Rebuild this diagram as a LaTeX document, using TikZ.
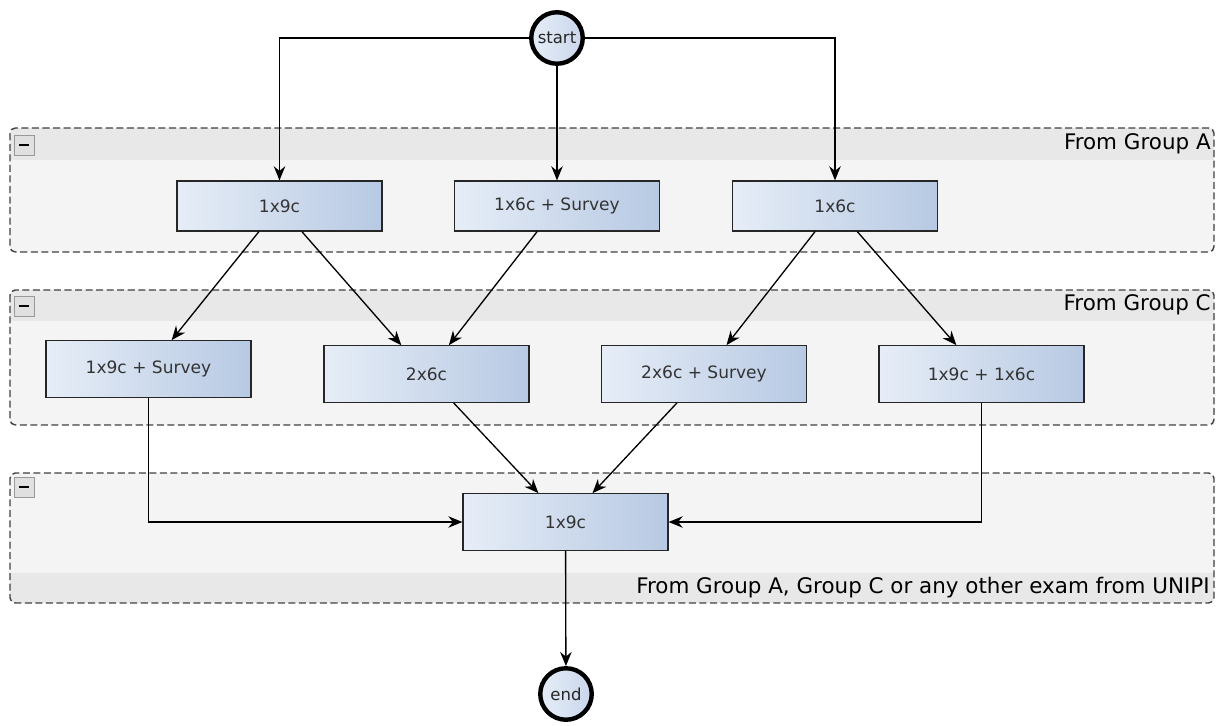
\documentclass[tikz,border=0pt]{standalone}
\usepackage{fontspec}
\setmainfont{DejaVu Sans}
\usetikzlibrary{arrows.meta}

\definecolor{taskleft}{HTML}{E6EDF7}
\definecolor{taskright}{HTML}{B7C9E3}
\definecolor{eventright}{HTML}{C9D7EC}
\definecolor{groupbody}{HTML}{F4F4F4}
\definecolor{grouphead}{HTML}{E8E8E8}

\begin{document}
\begin{tikzpicture}[x=0.02cm, y=-0.02cm,
	task/.style={draw=black!85, line width=0.7pt, left color=taskleft, right color=taskright, text=black!80, minimum width=4.1cm, minimum height=1.13cm, inner sep=0pt, font=\fontsize{9.7}{11}\selectfont},
	event/.style={circle, draw=black, line width=2.5pt, left color=taskleft, right color=eventright, text=black!85, minimum size=1.03cm, inner sep=0pt, font=\fontsize{9.4}{11}\selectfont},
	flow/.style={draw=black, line width=0.75pt, -{Stealth[length=8pt, width=6.5pt]}},
	grouptitle/.style={anchor=east, inner sep=0pt, font=\fontsize{12.2}{14}\selectfont},
	groupframe/.style={draw=black!75, dashed, dash pattern=on 4pt off 2pt, rounded corners=3pt, thick}]
			%%%%% START %%%%%
			
			\useasboundingbox (0, 0) rectangle (1217, 726);
			
			% group A
			\begin{scope}
				\clip[rounded corners=3pt] (10, 128) rectangle (1214, 252);
				\fill[groupbody] (10, 128) rectangle (1214, 252);
				\fill[grouphead] (10, 128) rectangle (1214, 160);
			\end{scope}
			\draw[groupframe] (10, 128) rectangle (1214, 252);
			\draw[black!40, fill=black!12] (14, 135) rectangle (34, 155);
			\draw[line width=1.6pt] (19, 145) -- (29, 145);
			\node[grouptitle] (titleA) at (1211, 144) {From Group A};
			
			% group C
			\begin{scope}
				\clip[rounded corners=3pt] (10, 290) rectangle (1214, 425);
				\fill[groupbody] (10, 290) rectangle (1214, 425);
				\fill[grouphead] (10, 290) rectangle (1214, 321);
			\end{scope}
			\draw[groupframe] (10, 290) rectangle (1214, 425);
			\draw[black!40, fill=black!12] (14, 296) rectangle (34, 316);
			\draw[line width=1.6pt] (19, 306) -- (29, 306);
			\node[grouptitle] (titleC) at (1211, 305) {From Group C};
			
			% last group
			\begin{scope}
				\clip[rounded corners=3pt] (10, 473) rectangle (1214, 603);
				\fill[groupbody] (10, 473) rectangle (1214, 603);
				\fill[grouphead] (10, 573) rectangle (1214, 603);
			\end{scope}
			\draw[groupframe] (10, 473) rectangle (1214, 603);
			\draw[black!40, fill=black!12] (14, 477) rectangle (34, 497);
			\draw[line width=1.6pt] (19, 487) -- (29, 487);
			\node[grouptitle] (titleAny) at (1210, 588) {From Group A, Group C or any other exam from UNIPI};
			
			% events
			\node[event] (start) at (557, 38) {start};
			\node[event] (end) at (566, 694) {end};
			
			% tasks
			\node[task, minimum height=1cm] (a1) at (279.5, 206) {1x9c};
			\node[task, minimum height=1cm] (a2) at (557, 206) {1x6c + Survey};
			\node[task, minimum height=1cm] (a3) at (835, 206) {1x6c};
			
			\node[task] (c1) at (148.5, 369) {1x9c + Survey};
			\node[task] (c2) at (426.5, 374) {2x6c};
			\node[task] (c3) at (704, 374) {2x6c + Survey};
			\node[task] (c4) at (981.5, 374) {1x9c + 1x6c};
			
			\node[task] (d1) at (565.5, 522) {1x9c};
			
			% flows
			\draw[flow] (start) -| (a1);
			\draw[flow] (start) -- (a2);
			\draw[flow] (start) -| (a3);
			
			\draw[flow] (a1) -- (c1);
			\draw[flow] (a1) -- (c2);
			\draw[flow] (a2) -- (c2);
			\draw[flow] (a3) -- (c3);
			\draw[flow] (a3) -- (c4);
			
			\draw[flow] (c1) |- (d1);
			\draw[flow] (c2) -- (d1);
			\draw[flow] (c3) -- (d1);
			\draw[flow] (c4) |- (d1);
			
			\draw[flow] (d1) -- (end);
			
			%%%%% END %%%%%
\end{tikzpicture}
\end{document}
